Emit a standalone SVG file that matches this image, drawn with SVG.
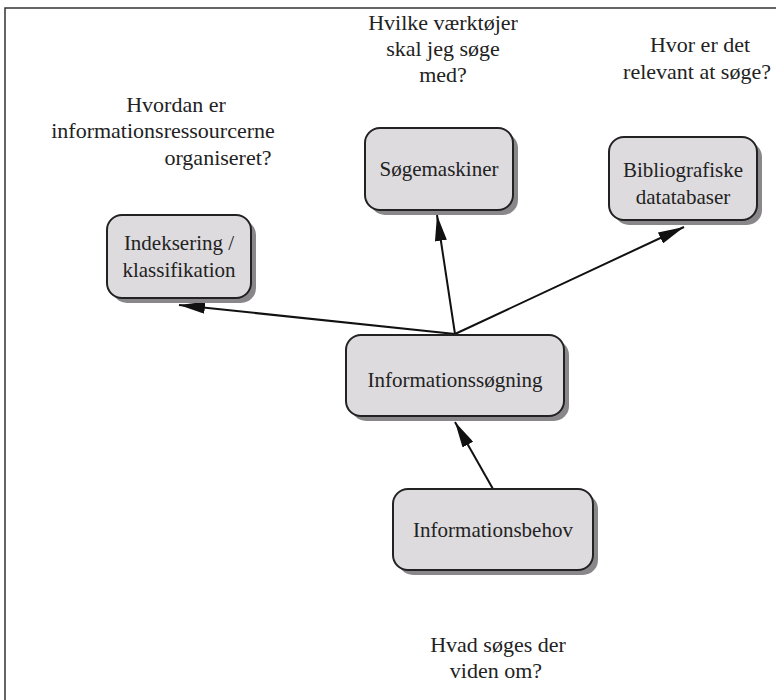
<svg xmlns="http://www.w3.org/2000/svg" width="776" height="700" viewBox="0 0 776 700">
<defs>
<style>
.t{font-family:"Liberation Serif","Times New Roman",serif;font-size:21px;fill:#222;text-anchor:middle}
.l{font-size:22px}
.box{fill:#dddbde;stroke:#222;stroke-width:2}
.sh{fill:#8a878a}
.c{stroke:#111;stroke-width:2;fill:none;marker-end:url(#ah)}
</style>
<marker id="ah" markerUnits="userSpaceOnUse" markerWidth="26" markerHeight="12" refX="26" refY="6" orient="auto" viewBox="0 0 26 12">
<path d="M0,0 L26,6 L0,12 z" fill="#111"/>
</marker>
</defs>
<rect width="776" height="700" fill="#fff"/>
<path d="M5,700 V8 H776" fill="none" stroke="#333" stroke-width="1.5"/>

<g id="labels">
<text class="t l" x="176" y="112">Hvordan er</text>
<text class="t l" x="163" y="138">informationsressourcerne</text>
<text class="t l" x="218" y="165">organiseret?</text>
<text class="t l" x="443" y="30">Hvilke værktøjer</text>
<text class="t l" x="443" y="56">skal jeg søge</text>
<text class="t l" x="443" y="82">med?</text>
<text class="t l" x="700" y="52">Hvor er det</text>
<text class="t l" x="697" y="79">relevant at søge?</text>
<text class="t l" x="498" y="652">Hvad søges der</text>
<text class="t l" x="496" y="678">viden om?</text>
</g>

<g id="connectors">
<line class="c" x1="455" y1="334" x2="179" y2="305"/>
<line class="c" x1="455" y1="334" x2="437" y2="215"/>
<line class="c" x1="455" y1="334" x2="684" y2="227"/>
<line class="c" x1="493" y1="489" x2="455" y2="422"/>
</g>

<g id="indeksering">
<rect class="sh" x="112" y="220" width="144" height="83" rx="15"/>
<rect class="box" x="107" y="215" width="144" height="83" rx="15"/>
<text class="t" x="179" y="250">Indeksering /</text>
<text class="t" x="179" y="277">klassifikation</text>
</g>

<g id="soegemaskiner">
<rect class="sh" x="370" y="133" width="148" height="82" rx="15"/>
<rect class="box" x="365" y="128" width="148" height="82" rx="15"/>
<text class="t" x="439" y="176">Søgemaskiner</text>
</g>

<g id="bibliografiske">
<rect class="sh" x="614" y="142" width="148" height="83" rx="15"/>
<rect class="box" x="609" y="137" width="148" height="83" rx="15"/>
<text class="t" x="683" y="177">Bibliografiske</text>
<text class="t" x="683" y="204">datatabaser</text>
</g>

<g id="informationssoegning">
<rect class="sh" x="351" y="340" width="218" height="81" rx="15"/>
<rect class="box" x="346" y="335" width="218" height="81" rx="15"/>
<text class="t" x="455" y="387">Informationssøgning</text>
</g>

<g id="informationsbehov">
<rect class="sh" x="398" y="494" width="200" height="81" rx="15"/>
<rect class="box" x="393" y="489" width="200" height="81" rx="15"/>
<text class="t" x="493" y="537">Informationsbehov</text>
</g>
</svg>
